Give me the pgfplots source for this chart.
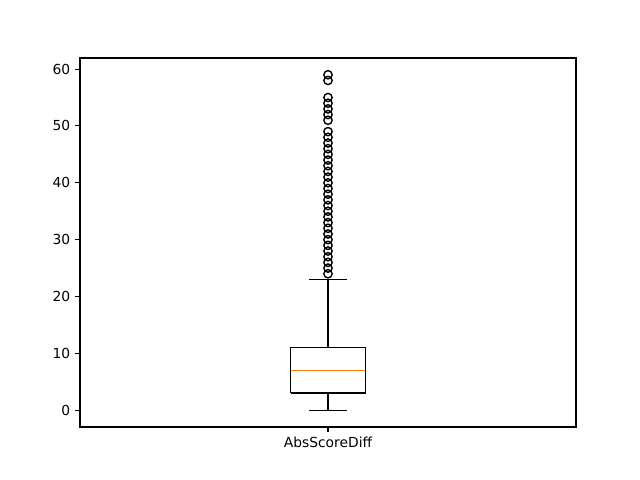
\documentclass[border=0pt]{standalone}
\usepackage{pgfplots}
\pgfplotsset{compat=1.18}
\usepackage{fontspec}
\setmainfont{DejaVu Sans}
\definecolor{mplorange}{HTML}{FF7F0E}
\begin{document}
\fontsize{10}{12}\selectfont
\begin{tikzpicture}
\path[use as bounding box] (-0.80in,-0.53in) rectangle (5.60in,4.27in);
\begin{axis}[
  at={(0,0)}, anchor=south west,
  scale only axis, width=4.96in, height=3.69in,
  xmin=0.5, xmax=1.5, ymin=-2.95, ymax=61.95,
  xtick={1}, xticklabels={AbsScoreDiff},
  ytick={0,10,20,30,40,50,60},
  tick align=outside, tick pos=left,
  major tick length=3.5pt,
  every tick/.style={black, line width=0.8pt},
  axis line style={line width=0.8pt},
  /pgf/number format/assume math mode=true,
  ticklabel style={font=\fontsize{10}{12}\selectfont},
]
% box (q1=3, q3=11)
\addplot[black, line width=1pt, no marks] coordinates {(0.925,3) (1.075,3) (1.075,11) (0.925,11) (0.925,3)};
% whiskers
\addplot[black, line width=1pt, no marks] coordinates {(1,3) (1,0)};
\addplot[black, line width=1pt, no marks] coordinates {(1,11) (1,23)};
% caps
\addplot[black, line width=1pt, no marks] coordinates {(0.9625,0) (1.0375,0)};
\addplot[black, line width=1pt, no marks] coordinates {(0.9625,23) (1.0375,23)};
% median
\addplot[mplorange, line width=1pt, no marks] coordinates {(0.925,7) (1.075,7)};
% outliers
\addplot[only marks, mark=o, mark size=3pt, mark options={black, line width=1pt}] coordinates {
(1,24) (1,25) (1,26) (1,27) (1,28) (1,29) (1,30) (1,31) (1,32) (1,33)
(1,34) (1,35) (1,36) (1,37) (1,38) (1,39) (1,40) (1,41) (1,42) (1,43)
(1,44) (1,45) (1,46) (1,47) (1,48) (1,49) (1,51) (1,52) (1,53) (1,54)
(1,55) (1,58) (1,59)
};
\end{axis}
\end{tikzpicture}
\end{document}
